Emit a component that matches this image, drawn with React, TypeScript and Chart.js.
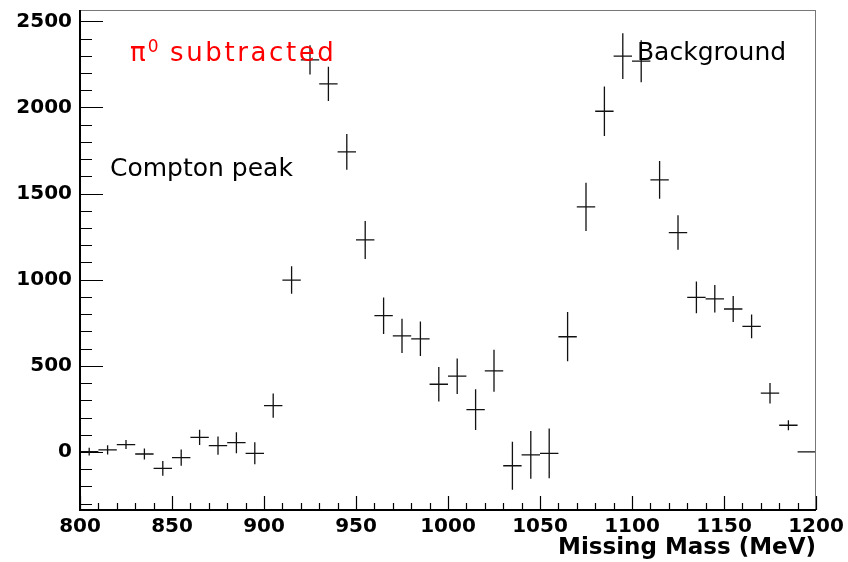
import React, { useEffect, useRef } from 'react';
import { Chart, registerables } from 'chart.js';

Chart.register(...registerables);

// ---- data ----
const binCenters = [
  805, 815, 825, 835, 845, 855, 865, 875, 885, 895,
  905, 915, 925, 935, 945, 955, 965, 975, 985, 995,
  1005, 1015, 1025, 1035, 1045, 1055, 1065, 1075, 1085, 1095,
  1105, 1115, 1125, 1135, 1145, 1155, 1165, 1175, 1185, 1195,
];
const counts = [
  2, 12, 43, -12, -95, -33, 85, 37, 54, -8,
  269, 998, 2277, 2137, 1742, 1231, 791, 674, 657, 393,
  440, 246, 471, -80, -17, -8, 669, 1423, 1978, 2298,
  2269, 1580, 1274, 897, 889, 830, 729, 341, 155, 0,
];
const errors = [
  22, 27, 26, 32, 43, 47, 44, 53, 61, 64,
  71, 80, 85, 99, 104, 110, 106, 100, 100, 100,
  103, 118, 122, 139, 139, 144, 143, 140, 144, 133,
  122, 110, 100, 92, 80, 75, 69, 60, 29, 0,
];
const binHalfWidth = 5;

const xTickValues = [800, 850, 900, 950, 1000, 1050, 1100, 1150, 1200];
const yTickValues = [0, 500, 1000, 1500, 2000, 2500];
const xMinorStep = 10;
const yMinorStep = 100;
const xMin = 800;
const xMax = 1200;
const yMin = -337;
const yMax = 2566;
const xTitle = 'Missing Mass (MeV)';

const annotations = [
  { kind: 'pi', text: 'subtracted', x: 827.2, y: 2267, color: '#ff0000' },
  { kind: 'plain', text: 'Compton peak', x: 816.3, y: 1605, color: '#000000' },
  { kind: 'plain', text: 'Background', x: 1102.7, y: 2277, color: '#000000' },
];

const TEXT_FONT = '"DejaVu Sans", sans-serif';
const AXIS_FONT = '"DejaVu Sans"';

const rootPlugin = {
  id: 'rootStyle',
  afterDatasetsDraw(chart: any) {
    const { ctx, chartArea } = chart;
    const xs = chart.scales.x;
    const ys = chart.scales.y;
    const { left, right, top, bottom } = chartArea;

    ctx.save();
    // ticks inside the frame
    ctx.strokeStyle = '#000';
    ctx.lineWidth = 1.2;
    ctx.beginPath();
    for (let v = Math.ceil(yMin / yMinorStep) * yMinorStep; v <= yMax; v += yMinorStep) {
      const py = Math.round(ys.getPixelForValue(v)) + 0.5;
      const len = v % 500 === 0 ? 23 : 12;
      ctx.moveTo(left, py);
      ctx.lineTo(left + len, py);
    }
    for (let v = xMin; v <= xMax; v += xMinorStep) {
      const px = Math.round(xs.getPixelForValue(v)) + 0.5;
      const len = v % 50 === 0 ? 14 : 7;
      ctx.moveTo(px, bottom);
      ctx.lineTo(px, bottom - len);
    }
    ctx.stroke();

    // error crosses
    ctx.save();
    ctx.beginPath();
    ctx.rect(left, top, right - left, bottom - top);
    ctx.clip();
    ctx.strokeStyle = '#111';
    ctx.lineWidth = 1.3;
    ctx.beginPath();
    const ds = chart.data.datasets[0].data as any[];
    ds.forEach((pt: any, i: number) => {
      const px = xs.getPixelForValue(pt.x);
      const py = ys.getPixelForValue(pt.y);
      const x0 = xs.getPixelForValue(pt.x - binHalfWidth);
      const x1 = xs.getPixelForValue(pt.x + binHalfWidth);
      ctx.moveTo(x0, py);
      ctx.lineTo(x1, py);
      const e = errors[i];
      if (e > 0) {
        ctx.moveTo(px, ys.getPixelForValue(pt.y + e));
        ctx.lineTo(px, ys.getPixelForValue(pt.y - e));
      }
    });
    ctx.stroke();
    ctx.restore();

    // frame
    ctx.lineWidth = 1;
    ctx.strokeStyle = '#777';
    ctx.beginPath();
    ctx.moveTo(left, top + 0.5);
    ctx.lineTo(right, top + 0.5);
    ctx.moveTo(right - 0.5, top);
    ctx.lineTo(right - 0.5, bottom);
    ctx.stroke();
    ctx.lineWidth = 2;
    ctx.strokeStyle = '#000';
    ctx.beginPath();
    ctx.moveTo(left, top);
    ctx.lineTo(left, bottom);
    ctx.lineTo(right, bottom);
    ctx.stroke();

    // annotations
    ctx.textBaseline = 'alphabetic';
    ctx.textAlign = 'left';
    annotations.forEach((a) => {
      const px = xs.getPixelForValue(a.x);
      const py = ys.getPixelForValue(a.y);
      ctx.fillStyle = a.color;
      if (a.kind === 'pi') {
        ctx.font = `26px ${TEXT_FONT}`;
        ctx.fillText('\u03C0', px, py);
        const w = ctx.measureText('\u03C0').width;
        ctx.font = `17px ${TEXT_FONT}`;
        ctx.fillText('0', px + w + 2, py - 9);
        ctx.font = `26px ${TEXT_FONT}`;
        (ctx as any).letterSpacing = '2.6px';
        ctx.fillText(a.text, px + 40, py);
        (ctx as any).letterSpacing = '0px';
      } else {
        ctx.font = `25px ${TEXT_FONT}`;
        ctx.fillText(a.text, px, py);
      }
    });
    ctx.restore();
  },
};

export default function App() {
  const ref = useRef<HTMLCanvasElement | null>(null);

  useEffect(() => {
    if (!ref.current) return;
    const chart = new Chart(ref.current, {
      type: 'scatter',
      data: {
        datasets: [
          {
            data: binCenters.map((x, i) => ({ x, y: counts[i] })),
            pointRadius: 0,
            showLine: false,
          },
        ],
      },
      options: {
        responsive: false,
        animation: false,
        layout: { padding: { left: 0, right: 32, top: 10, bottom: 0 } },
        plugins: { legend: { display: false }, tooltip: { enabled: false } },
        scales: {
          x: {
            type: 'linear',
            position: 'bottom',
            min: xMin,
            max: xMax,
            grid: { display: false, drawTicks: false },
            border: { display: false },
            ticks: {
              color: '#000',
              font: { family: AXIS_FONT, weight: 'bold', size: 20 },
              padding: 5,
              maxRotation: 0,
              autoSkip: false,
              callback: (v: any) => String(v),
            },
            afterBuildTicks: (s: any) => {
              s.ticks = xTickValues.map((v) => ({ value: v }));
            },
            afterFit: (s: any) => {
              s.height = 52;
              s.paddingLeft = 0;
              s.paddingRight = 0;
            },
            title: {
              display: true,
              text: xTitle,
              align: 'end',
              color: '#000',
              font: { family: AXIS_FONT, weight: 'bold', size: 23 },
              padding: { top: 0, bottom: 0 },
            },
          },
          y: {
            type: 'linear',
            min: yMin,
            max: yMax,
            grid: { display: false, drawTicks: false },
            border: { display: false },
            ticks: {
              color: '#000',
              font: { family: AXIS_FONT, weight: 'bold', size: 20 },
              padding: 8,
              autoSkip: false,
              callback: (v: any) => String(v),
            },
            afterBuildTicks: (s: any) => {
              s.ticks = yTickValues.map((v) => ({ value: v }));
            },
            afterFit: (s: any) => {
              s.width = 80;
              s.paddingTop = 0;
              s.paddingBottom = 0;
            },
          },
        },
      } as any,
      plugins: [rootPlugin],
    });
    return () => chart.destroy();
  }, []);

  return (
    <div style={{ position: 'fixed', left: 0, top: 0, width: 848, height: 562, background: '#fff' }}>
      <canvas ref={ref} width={848} height={562} style={{ display: 'block' }} />
    </div>
  );
}
